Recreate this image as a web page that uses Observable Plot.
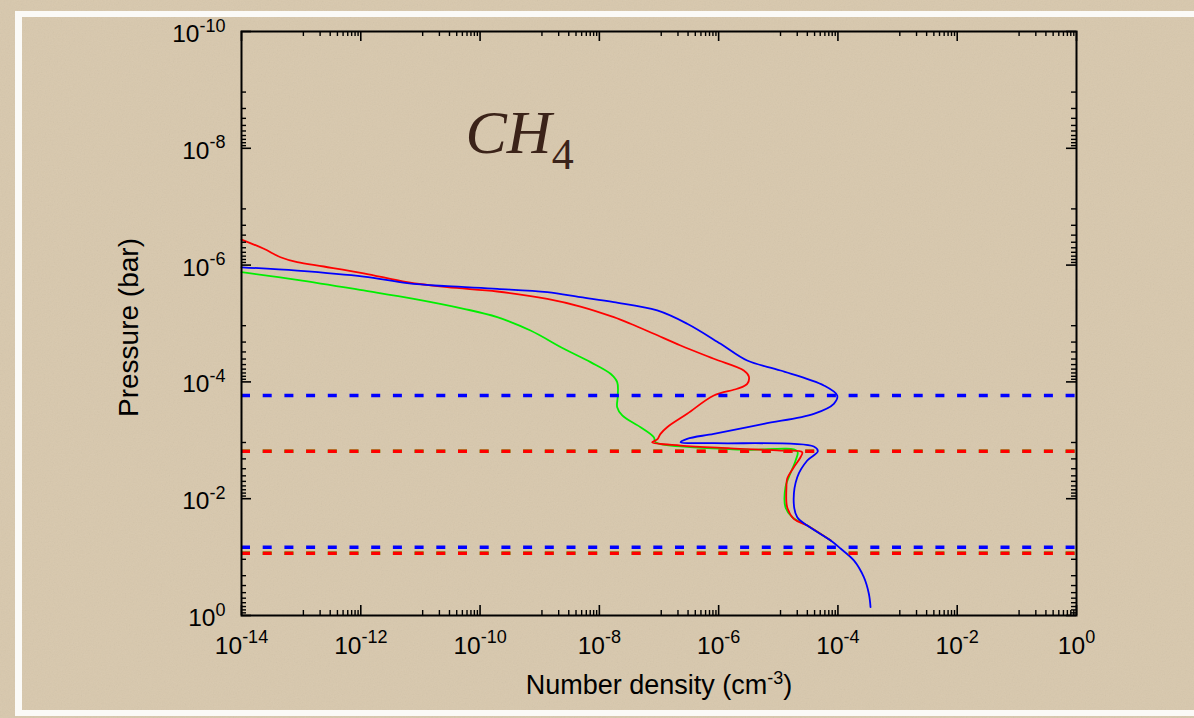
<!DOCTYPE html>
<html>
<head>
<meta charset="utf-8">
<script src="https://cdn.jsdelivr.net/npm/d3@7"></script>
<script src="https://cdn.jsdelivr.net/npm/@observablehq/plot@0.6"></script>
<style>
  html, body { margin: 0; padding: 0; background: #d8c8ad; }
  #wrap { position: relative; width: 1194px; height: 718px; overflow: hidden; }
  #paper { position: absolute; left: 0; top: 0; }
  #chart { position: absolute; left: 0; top: 0; }
  #edge { position: absolute; left: 15px; top: 11px; width: 1220px; height: 705px;
          box-sizing: border-box; border-top: 6px solid #fbfaf7; border-left: 7px solid #fbfaf7;
          border-bottom: 6px solid #fbfaf7; pointer-events: none; }
</style>
</head>
<body>
<div id="wrap">
  <svg id="paper" width="1194" height="718">
    <filter id="noise"><feTurbulence type="fractalNoise" baseFrequency="0.75" numOctaves="2" stitchTiles="stitch"/><feColorMatrix type="saturate" values="0"/></filter>
    <rect width="1194" height="718" fill="#d8c8ad"/>
    <rect width="1194" height="718" filter="url(#noise)" opacity="0.10"/>
  </svg>
  <div id="chart"></div>
  <div id="edge"></div>
</div>
<script>
// ---------------- data ----------------
const seriesNames = ["case 1", "case 2", "case 3"]; // drawn green, red, blue

const greenX = [1e-14, 8.59e-14, 1.12e-12, 7.75e-12, 5.33e-11, 1.94e-10, 7.01e-10, 2.54e-9, 7.11e-9, 1.54e-8, 1.99e-8, 2.04e-8, 1.99e-8, 2.42e-8, 4.90e-8, 8.19e-8, 8.75e-8, 3.38e-7, 3.01e-6, 2.08e-5, 1.95e-5, 1.50e-5, 1.32e-5, 1.32e-5, 1.71e-5, 3.06e-5, 7.57e-5];
const greenP = [1.32e-6, 1.79e-6, 2.72e-6, 3.78e-6, 5.60e-6, 7.80e-6, 1.32e-5, 2.71e-5, 4.59e-5, 7.26e-5, 1.01e-4, 1.71e-4, 2.71e-4, 3.76e-4, 5.97e-4, 8.85e-4, 1.08e-3, 1.31e-3, 1.45e-3, 1.54e-3, 2.22e-3, 4.28e-3, 6.35e-3, 0.0140, 0.0207, 0.0288, 0.0520];

const redX = [1e-14, 2.37e-14, 4.51e-14, 8.59e-14, 2.40e-13, 1.12e-12, 6.00e-12, 2.81e-11, 1.94e-10, 1.34e-9, 4.83e-9, 1.75e-8, 3.33e-8, 8.19e-8, 2.30e-7, 8.30e-7, 2.64e-6, 3.21e-6, 3.01e-6, 2.05e-6, 8.30e-7, 2.97e-7, 1.37e-7, 1.06e-7, 9.33e-8, 7.69e-8, 2.30e-7, 1.58e-6, 1.09e-5, 2.52e-5, 2.36e-5, 1.82e-5, 1.41e-5, 1.37e-5, 1.41e-5, 1.82e-5, 3.06e-5, 7.57e-5];
const redP = [3.65e-7, 5.26e-7, 7.33e-7, 8.91e-7, 1.057e-6, 1.38e-6, 1.96e-6, 2.39e-6, 2.83e-6, 3.78e-6, 5.12e-6, 7.80e-6, 1.01e-5, 1.50e-5, 2.38e-5, 4.02e-5, 6.38e-5, 8.09e-5, 1.08e-4, 1.31e-4, 1.71e-4, 3.52e-4, 5.97e-4, 7.75e-4, 9.68e-4, 1.08e-3, 1.23e-3, 1.37e-3, 1.50e-3, 1.60e-3, 1.95e-3, 2.89e-3, 4.56e-3, 6.35e-3, 0.0140, 0.0221, 0.0288, 0.0520];

const blueX = [1e-14, 8.59e-14, 1.12e-12, 6.00e-12, 2.81e-11, 1.94e-10, 1.34e-9, 4.83e-9, 1.75e-8, 9.33e-8, 2.97e-7, 1.08e-6, 3.01e-6, 1.09e-5, 5.81e-5, 9.73e-5, 8.53e-5, 3.94e-5, 5.73e-6, 8.30e-7, 2.97e-7, 2.30e-7, 8.30e-7, 3.94e-5, 4.60e-5, 3.06e-5, 2.08e-5, 1.82e-5, 2.08e-5, 3.06e-5, 7.57e-5, 1.12e-4, 1.85e-4, 2.72e-4, 3.30e-4, 3.52e-4];
const blueP = [1.09e-6, 1.24e-6, 1.57e-6, 2.04e-6, 2.30e-6, 2.55e-6, 2.91e-6, 3.55e-6, 4.32e-6, 5.98e-6, 1.01e-5, 2.23e-5, 4.31e-5, 6.38e-5, 1.15e-4, 1.71e-4, 2.37e-4, 3.52e-4, 5.21e-4, 7.75e-4, 9.42e-4, 1.08e-3, 1.12e-3, 1.28e-3, 1.54e-3, 2.22e-3, 4.28e-3, 0.0122, 0.0207, 0.0288, 0.0520, 0.0721, 0.114, 0.221, 0.425, 0.721];

// horizontal dashed levels (pressure, bar) and their series
const levelP      = [1.54e-3, 1.54e-3, 0.0857, 0.0857, 1.71e-4, 0.0676];
const levelSeries = ["case 1", "case 2", "case 1", "case 2", "case 3", "case 3"];

// axis ticks
const xTickExp = [-14, -12, -10, -8, -6, -4, -2, 0];
const yTickExp = [-10, -8, -6, -4, -2, 0];
const xLabel = "Number density (cm";
const xLabelSup = "-3";
const yLabel = "Pressure (bar)";
const titleMain = "CH";
const titleSub = "4";

// ---------------- build ----------------
const zip = (xs, ps, s) => xs.map((x, i) => ({x, p: ps[i], series: s}));
const curves = [
  ...zip(greenX, greenP, seriesNames[0]),
  ...zip(redX, redP, seriesNames[1]),
  ...zip(blueX, blueP, seriesNames[2])
];
const levels = levelP.map((p, i) => ({p, series: levelSeries[i]}));

const xMajor = xTickExp.map(e => Math.pow(10, e));
const yMajor = yTickExp.map(e => Math.pow(10, e));
// linear minor ticks between major ticks (two decades apart)
const minors = majors => majors.slice(0, -1).flatMap((a, i) => {
  const b = majors[i + 1];
  return d3.range(1, 10).map(k => a + k * (b - a) / 10);
});
const xMinor = minors(xMajor);
const yMinor = minors(yMajor);

const W = 1194, H = 718, mL = 241, mT = 31, mR = 118, mB = 103;
const plotW = W - mL - mR, plotH = H - mT - mB;
const majLen = 10, minLen = 5;
const FONT = "Helvetica, Arial, 'Liberation Sans', sans-serif";
const MARK = "\u00a7"; // marker for post-processing of rich text

const plot = Plot.plot({
  width: W, height: H,
  marginLeft: mL, marginTop: mT, marginRight: mR, marginBottom: mB,
  style: {background: "transparent", fontFamily: FONT, overflow: "visible"},
  x: {type: "log", domain: [1e-14, 1], axis: null},
  y: {type: "log", domain: [1e-10, 1], reverse: true, axis: null},
  color: {domain: seriesNames, range: ["#00ee00", "#ff0000", "#0000ff"]},
  marks: [
    Plot.line(curves, {x: "x", y: "p", z: "series", stroke: "series", strokeWidth: 1.8, curve: "catmull-rom"}),
    Plot.ruleY(levels, {y: "p", stroke: "series", strokeWidth: 3.5, strokeDasharray: "9,12.7"}),
    // inward ticks on all four sides
    Plot.tickX(xMinor, {x: d => d, insetTop: plotH - minLen, stroke: "black", strokeWidth: 1.4}),
    Plot.tickX(xMinor, {x: d => d, insetBottom: plotH - minLen, stroke: "black", strokeWidth: 1.4}),
    Plot.tickX(xMajor, {x: d => d, insetTop: plotH - majLen, stroke: "black", strokeWidth: 1.6}),
    Plot.tickX(xMajor, {x: d => d, insetBottom: plotH - majLen, stroke: "black", strokeWidth: 1.6}),
    Plot.tickY(yMinor, {y: d => d, insetRight: plotW - minLen, stroke: "black", strokeWidth: 1.4}),
    Plot.tickY(yMinor, {y: d => d, insetLeft: plotW - minLen, stroke: "black", strokeWidth: 1.4}),
    Plot.tickY(yMajor, {y: d => d, insetRight: plotW - majLen, stroke: "black", strokeWidth: 1.6}),
    Plot.tickY(yMajor, {y: d => d, insetLeft: plotW - majLen, stroke: "black", strokeWidth: 1.6}),
    Plot.frame({stroke: "black", strokeWidth: 2}),
    // tick labels
    Plot.text(xMajor, {x: d => d, frameAnchor: "bottom", text: (d, i) => MARK + "p" + xTickExp[i],
      textAnchor: "middle", lineAnchor: "bottom", dy: 38, fontSize: 24.5, fill: "black"}),
    Plot.text(yMajor, {y: d => d, frameAnchor: "left", text: (d, i) => MARK + "p" + yTickExp[i],
      textAnchor: "end", lineAnchor: "bottom", dx: -16, dy: 10.5, fontSize: 24.5, fill: "black"}),
    // axis titles
    Plot.text([xLabel], {text: d => MARK + "x" + d, frameAnchor: "bottom", textAnchor: "middle", lineAnchor: "bottom",
      dy: 78, fontSize: 27, fill: "black"}),
    Plot.text([yLabel], {text: d => d, frameAnchor: "left", textAnchor: "middle", lineAnchor: "bottom",
      rotate: -90, dx: -104, dy: 4, fontSize: 28, fill: "black"}),
    // chart title
    Plot.text([titleMain], {text: d => MARK + "t" + d, frameAnchor: "top-left", textAnchor: "start", lineAnchor: "bottom",
      dx: 224, dy: 121, fontSize: 62, fontStyle: "italic", fontFamily: "'Times New Roman', 'Liberation Serif', 'DejaVu Serif', serif",
      fill: "#3b2319"})
  ]
});
document.getElementById("chart").appendChild(plot);

// ---------------- superscripts / subscripts ----------------
const NS = "http://www.w3.org/2000/svg";
function tspan(parent, txt, attrs) {
  const t = document.createElementNS(NS, "tspan");
  for (const k in attrs) t.setAttribute(k, attrs[k]);
  t.textContent = txt;
  parent.appendChild(t);
  return t;
}
plot.querySelectorAll("text").forEach(el => {
  const s = el.textContent;
  if (!s.startsWith(MARK)) return;
  const kind = s[1], body = s.slice(2);
  el.textContent = "";
  if (kind === "p") {
    tspan(el, "10", {});
    tspan(el, body, {"font-size": 18, dy: -10.5});
  } else if (kind === "x") {
    tspan(el, body, {});
    tspan(el, xLabelSup, {"font-size": 18, dy: -10});
    tspan(el, ")", {"font-size": 27, dy: 10});
  } else if (kind === "t") {
    tspan(el, body, {});
    tspan(el, titleSub, {"font-size": 44, dy: 16, "font-style": "normal"});
  }
});
</script>
</body>
</html>
